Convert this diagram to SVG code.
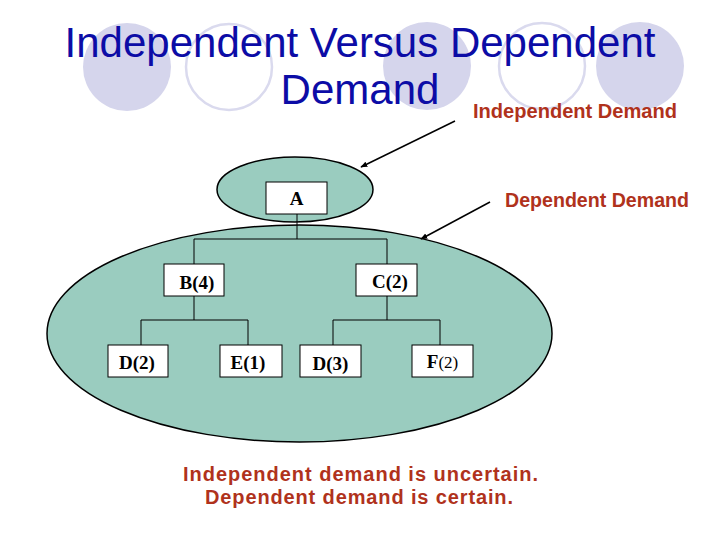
<svg xmlns="http://www.w3.org/2000/svg" width="720" height="540" viewBox="0 0 720 540">
<defs>
<style>
.bgc{fill:#D5D5EC;stroke:none}
.bgo{fill:none;stroke:#DADAEE;stroke-width:2.5}
.title{font-family:"Liberation Sans",Arial,sans-serif;font-size:42px;fill:#0C0CA6;text-anchor:middle}
.lbl{font-family:"Liberation Sans",Arial,sans-serif;font-size:20px;font-weight:bold;fill:#B0321C}
.grp{fill:#9ACCBF;stroke:#000;stroke-width:1.5}
.box{fill:#fff;stroke:#000;stroke-width:1}
.nt{font-family:"Liberation Serif","Times New Roman",serif;font-size:19px;font-weight:bold;fill:#000;text-anchor:middle}
.ln{stroke:#000;stroke-width:1;fill:none}
.arr{stroke:#000;stroke-width:1.5;fill:none;marker-end:url(#ah)}
</style>
<marker id="ah" viewBox="0 0 10 10" refX="9" refY="5" markerWidth="7" markerHeight="7" orient="auto" markerUnits="userSpaceOnUse">
<path d="M0,1 L10,5 L0,9 z" fill="#000"/>
</marker>
</defs>
<rect width="720" height="540" fill="#fff"/>
<g id="background">
<circle class="bgc" cx="127" cy="67" r="44"/>
<circle class="bgo" cx="229" cy="67" r="43"/>
<circle class="bgc" cx="427" cy="66" r="44"/>
<circle class="bgo" cx="542" cy="66" r="43"/>
<circle class="bgc" cx="640" cy="66" r="44"/>
</g>
<g id="title">
<text class="title" x="360" y="57">Independent Versus Dependent</text>
<text class="title" x="360" y="104">Demand</text>
</g>
<g id="group-independent">
<ellipse class="grp" cx="295" cy="189.5" rx="78" ry="32.5"/>
</g>
<g id="group-dependent">
<ellipse class="grp" cx="299.5" cy="333.5" rx="252.5" ry="108.5"/>
</g>
<g id="connectors">
<path class="ln" d="M297,214 V239 M194,239 H387 M194,239 V264 M387,239 V264"/>
<path class="ln" d="M194,296 V320 M141,320 H248 M141,320 V345 M248,320 V345"/>
<path class="ln" d="M387,296 V320 M333,320 H440 M333,320 V345 M440,320 V345"/>
<path class="arr" d="M455,121 L361,167"/>
<path class="arr" d="M490,202 L421,239"/>
</g>
<g id="node-A">
<rect class="box" x="266" y="182" width="61" height="32"/>
<text class="nt" x="296.5" y="205">A</text>
</g>
<g id="node-B4">
<rect class="box" x="164" y="264" width="60" height="32"/>
<text class="nt" x="197" y="289">B(4)</text>
</g>
<g id="node-C2">
<rect class="box" x="356" y="264" width="61" height="32"/>
<text class="nt" x="390" y="288">C(2)</text>
</g>
<g id="node-D2">
<rect class="box" x="108" y="345" width="60" height="32"/>
<text class="nt" x="137" y="369">D(2)</text>
</g>
<g id="node-E1">
<rect class="box" x="220" y="345" width="62" height="32"/>
<text class="nt" x="248" y="369">E(1)</text>
</g>
<g id="node-D3">
<rect class="box" x="300" y="345" width="61" height="32"/>
<text class="nt" x="330.5" y="370">D(3)</text>
</g>
<g id="node-F2">
<rect class="box" x="412" y="345" width="61" height="32"/>
<text class="nt" x="442.5" y="368">F<tspan font-weight="normal" font-size="17px">(2)</tspan></text>
</g>
<g id="labels">
<text class="lbl" x="473" y="118" textLength="204" lengthAdjust="spacingAndGlyphs">Independent Demand</text>
<text class="lbl" x="505" y="207" textLength="184" lengthAdjust="spacingAndGlyphs">Dependent Demand</text>
<text class="lbl" x="183" y="481" textLength="355" lengthAdjust="spacing">Independent demand is uncertain.</text>
<text class="lbl" x="205" y="504" textLength="308" lengthAdjust="spacing">Dependent demand is certain.</text>
</g>
</svg>
